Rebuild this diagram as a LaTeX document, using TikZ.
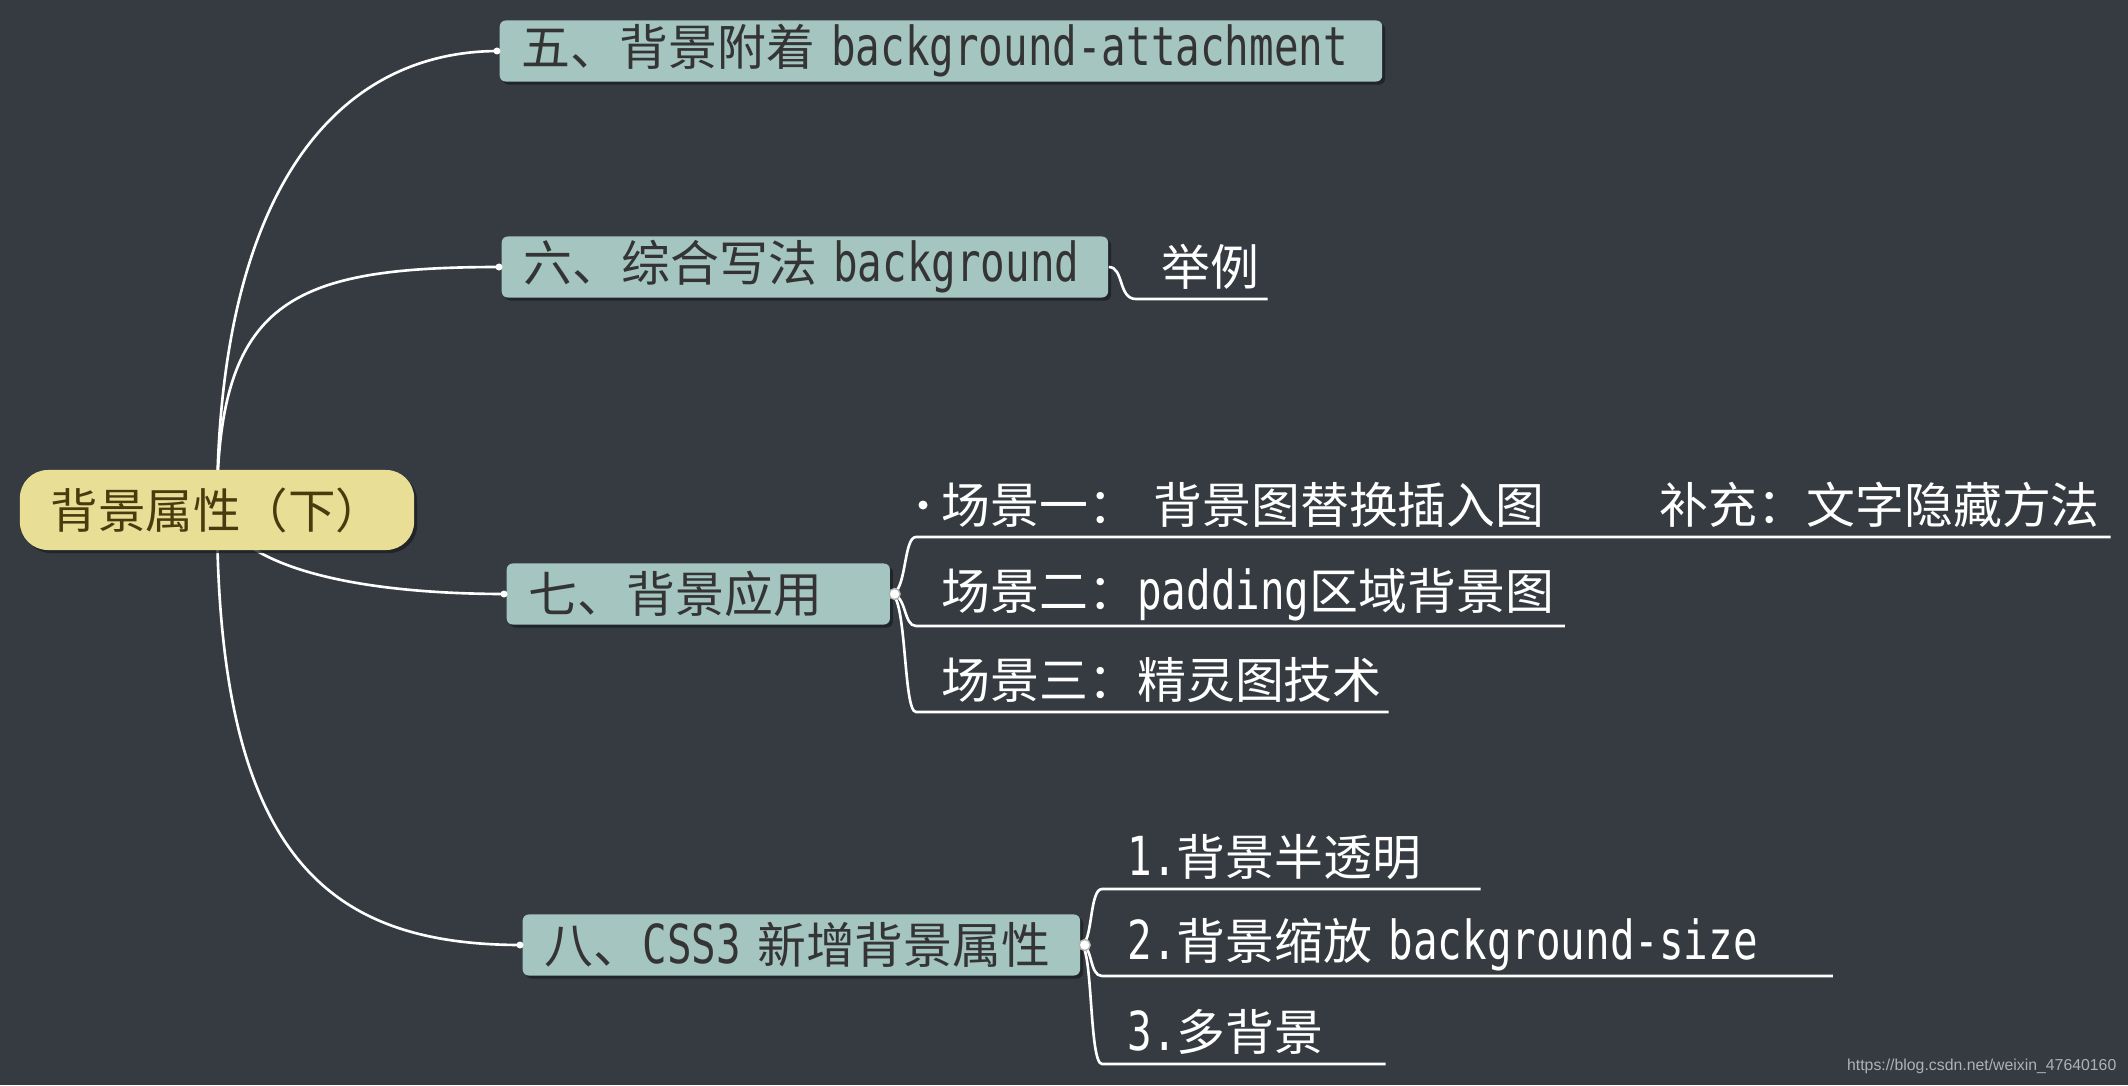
\documentclass[tikz,border=0pt]{standalone}
\usepackage{fontspec}
\setmainfont{Noto Sans CJK SC}
\newfontfamily\latfont[Scale=1.1, FakeStretch=0.76]{DejaVu Sans Mono}
\newfontfamily\urlfont{Liberation Sans}
\newcommand\lat[1]{\mbox{\latfont #1}}
\usepackage{xcolor}
\definecolor{mapBack}{RGB}{53, 59, 64}
\definecolor{mapTopic}{RGB}{164, 197, 192}
\definecolor{mapTopicText}{RGB}{52, 52, 52}
\definecolor{mapRoot}{RGB}{232, 222, 150}
\definecolor{mapRootText}{RGB}{74, 58, 14}
\definecolor{mapShadow}{RGB}{28, 31, 34}
\definecolor{mapUrl}{RGB}{175, 178, 180}
\usepackage{tikz}
\usetikzlibrary{
    positioning,
    backgrounds,
    shadows
}

\begin{document}
\begin{tikzpicture}[
    x=0.01cm, y=-0.01cm,
    rootBox/.style={
        rectangle, rounded corners=0.28cm,
        fill=mapRoot, text=mapRootText,
        font=\fontsize{13.5}{16}\selectfont,
        minimum width=3.94cm, minimum height=0.80cm, inner sep=0pt,
        drop shadow={fill=mapShadow, opacity=0.8, shadow xshift=0.03cm, shadow yshift=-0.03cm}
    },
    topicBox/.style={
        rectangle, rounded corners=0.06cm, anchor=west,
        fill=mapTopic, text=mapTopicText,
        font=\fontsize{13.9}{16}\selectfont, align=left,
        minimum height=0.61cm, inner xsep=0.22cm, inner ysep=0pt,
        drop shadow={fill=mapShadow, opacity=0.8, shadow xshift=0.03cm, shadow yshift=-0.03cm}
    },
    leafText/.style={
        anchor=south west, text=white,
        font=\fontsize{13.9}{16}\selectfont, align=left,
        minimum height=0.62cm, inner xsep=0.25cm, inner ysep=0pt
    },
    branchLine/.style={
        draw=white, line width=0.75pt
    },
    tipDot/.style={
        circle, fill=white, inner sep=0pt, minimum size=0.07cm
    },
    knobDot/.style={
        circle, fill=white, draw=gray!60, line width=0.4pt,
        inner sep=0pt, minimum size=0.11cm
    },
    urlLabel/.style={
        font=\urlfont\fontsize{4.5}{5}\selectfont, text=mapUrl,
        anchor=east, inner sep=0pt
    }
]
    \useasboundingbox (0, 0) rectangle (2128, 1085);

    % Central topic
    \node[rootBox] (root) at (217, 510) {背景属性（下）};

    % Main topics
    \node[topicBox, text width=8.38cm] (t5) at (499, 51) {五、背景附着~\lat{background-attachment}};
    \node[topicBox, text width=5.62cm] (t6) at (501, 267) {六、综合写法~\lat{background}};
    \node[topicBox, text width=3.39cm] (t7) at (506, 594) {七、背景应用};
    \node[topicBox, text width=5.13cm] (t8) at (522, 945) {八、\lat{CSS3}~新增背景属性};

    % Sub topics
    \node[leafText, text width=0.80cm] (ex) at (1136, 299) {举例};
    \node[leafText, text width=6.44cm] (s1) at (916, 537) {场景一：~背景图替换插入图};
    \node[leafText, text width=4.77cm, inner xsep=0.1cm, align=right] (s1note) at (s1.south east) {补充：文字隐藏方法};
    \node[leafText, text width=5.97cm] (s2) at (916, 626) {场景二：\lat{padding}区域背景图};
    \node[leafText, text width=4.21cm] (s3) at (916, 712) {场景三：精灵图技术};
    \node[leafText, text width=3.27cm] (c1) at (1102, 889) {\lat{1.}背景半透明};
    \node[leafText, text width=6.79cm] (c2) at (1102, 976) {\lat{2.}背景缩放~\lat{background-size}};
    \node[leafText, text width=2.32cm] (c3) at (1102, 1064) {\lat{3.}多背景};

    % Background and main branches
    \begin{scope}[on background layer]
        \fill[mapBack] (0, 0) rectangle (2128, 1085);
        \draw[branchLine] (root.center) .. controls (217, 200) and (330, 51) .. (t5.west);
        \draw[branchLine] (root.center) .. controls (217, 300) and (290, 267) .. (t6.west);
        \draw[branchLine] (root.center) .. controls (245, 575) and (380, 594) .. (t7.west);
        \draw[branchLine] (root.center) .. controls (217, 860) and (330, 945) .. (t8.west);
    \end{scope}

    % Sub branches
    \draw[branchLine] (t6.east) .. controls (1124, 267) and (1118, 299) .. (ex.south west) -- (ex.south east);
    \draw[branchLine] (t7.east) .. controls (907, 594) and (903, 537) .. (s1.south west) -- (s1.south east) -- (s1note.south east);
    \draw[branchLine] (t7.east) .. controls (907, 594) and (903, 626) .. (s2.south west) -- (s2.south east);
    \draw[branchLine] (t7.east) .. controls (907, 594) and (903, 712) .. (s3.south west) -- (s3.south east);
    \draw[branchLine] (t8.east) .. controls (1093, 945) and (1089, 889) .. (c1.south west) -- (c1.south east);
    \draw[branchLine] (t8.east) .. controls (1093, 945) and (1089, 976) .. (c2.south west) -- (c2.south east);
    \draw[branchLine] (t8.east) .. controls (1093, 945) and (1089, 1064) .. (c3.south west) -- (c3.south east);

    % Dots
    \node[tipDot] (t5in) at ([xshift=-0.02cm]t5.west) {};
    \node[tipDot] (t6in) at ([xshift=-0.02cm]t6.west) {};
    \node[tipDot] (t7in) at ([xshift=-0.02cm]t7.west) {};
    \node[tipDot] (t8in) at ([xshift=-0.02cm]t8.west) {};
    \node[tipDot, minimum size=0.09cm] (s1mark) at (923, 505) {};
    \node[knobDot] (t7out) at ([xshift=0.04cm]t7.east) {};
    \node[knobDot] (t8out) at ([xshift=0.04cm]t8.east) {};

    % Source note
    \node[urlLabel] (source) at (2117, 1066) {https://blog.csdn.net/weixin\_47640160};

\end{tikzpicture}
\end{document}
